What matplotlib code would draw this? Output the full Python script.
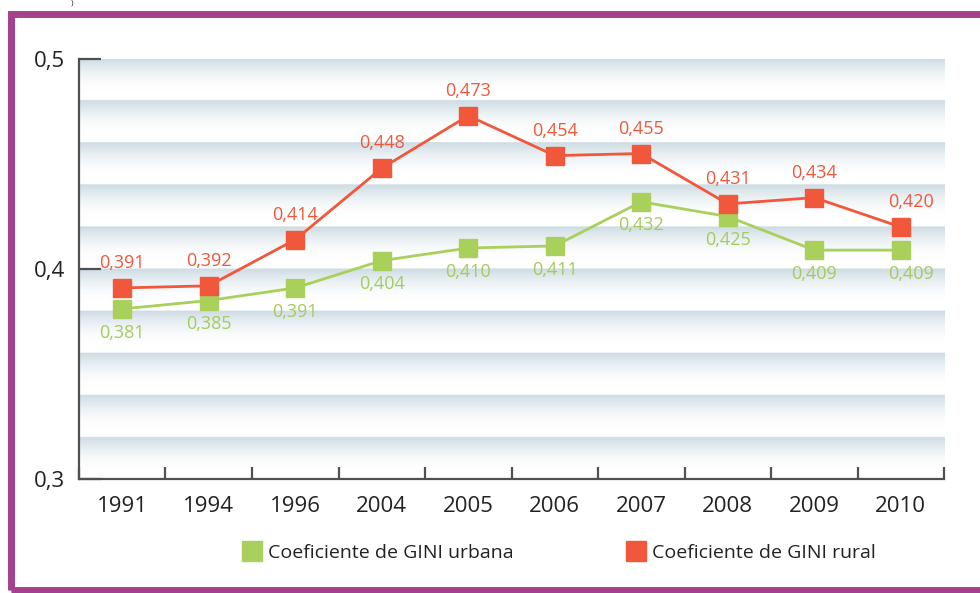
import numpy as np
import matplotlib
matplotlib.use("Agg")
import matplotlib.pyplot as plt
from matplotlib.lines import Line2D
from matplotlib.patches import Rectangle

plt.rcParams['font.family'] = ['Open Sans', 'DejaVu Sans']

# ---- data ----
years = ['1991', '1994', '1996', '2004', '2005', '2006', '2007', '2008', '2009', '2010']
gini_urbana = [0.381, 0.385, 0.391, 0.404, 0.410, 0.411, 0.432, 0.425, 0.409, 0.409]
gini_rural = [0.391, 0.392, 0.414, 0.448, 0.473, 0.454, 0.455, 0.431, 0.434, 0.420]
y_ticks = [0.3, 0.4, 0.5]
y_labels = ['0,3', '0,4', '0,5']
legend_labels = ['Coeficiente de GINI urbana', 'Coeficiente de GINI rural']

red = '#f0573b'
green = '#a9d05a'
green_txt = '#a3cc5a'
purple = '#a3418f'
dark = '#505050'

fig = plt.figure(figsize=(9.8, 5.93), dpi=100)
ax = fig.add_axes([0.0806, 0.1922, 0.8827, 0.7083])

x = np.arange(len(years))

# striped gradient background (bands of 0.02)
ys = np.linspace(0.5, 0.3, 800)
phase = ((0.5 - ys) / 0.02) % 1.0
fade = np.clip(1 - phase / 0.8, 0, 1) ** 1.8
top_col = np.array([0.80, 0.86, 0.89])
white = np.array([1.0, 1.0, 1.0])
img = white[None, :] * (1 - fade[:, None]) + top_col[None, :] * fade[:, None]
img = img[:, None, :]
ax.imshow(img, extent=[-0.5, len(years) - 0.5, 0.3, 0.5], aspect='auto', zorder=0,
          interpolation='bilinear')

ax.plot(x, gini_urbana, color=green, lw=2.0, marker='s', ms=13, zorder=3)
ax.plot(x, gini_rural, color=red, lw=2.0, marker='s', ms=13, zorder=4)

for i in range(len(years)):
    dx = 7 if i == len(years) - 1 else 0
    ax.annotate(f"{gini_rural[i]:.3f}".replace('.', ','), (x[i], gini_rural[i]),
                xytext=(dx, 18), textcoords='offset points', ha='center', va='center',
                color=red, fontsize=13)
    ax.annotate(f"{gini_urbana[i]:.3f}".replace('.', ','), (x[i], gini_urbana[i]),
                xytext=(dx, -17), textcoords='offset points', ha='center', va='center',
                color=green_txt, fontsize=13)

ax.set_xlim(-0.5, len(years) - 0.5)
ax.set_ylim(0.3, 0.5)

# axes styling
for s in ['top', 'right']:
    ax.spines[s].set_visible(False)
for s in ['left', 'bottom']:
    ax.spines[s].set_color(dark)
    ax.spines[s].set_linewidth(1.6)

ax.set_yticks(y_ticks)
ax.set_yticklabels(y_labels, fontsize=16, color='#222222')
ax.tick_params(axis='y', direction='in', length=16, width=1.6, color=dark, pad=10)

ax.set_xticks(np.arange(len(years) + 1) - 0.5, minor=False)
ax.set_xticklabels([''] * (len(years) + 1))
ax.tick_params(axis='x', direction='in', length=9, width=1.6, color=dark)
for i, yr in enumerate(years):
    ax.text(x[i], -0.04, yr, transform=ax.get_xaxis_transform(), ha='center', va='top',
            fontsize=16, color='#222222')

# legend
handles = [Line2D([], [], ls='none', marker='s', ms=15, color=green),
           Line2D([], [], ls='none', marker='s', ms=15, color=red)]
ax.legend(handles, legend_labels, loc='center', bbox_to_anchor=(0.555, -0.176), ncol=2,
          frameon=False, fontsize=14, handlelength=1.0, handletextpad=0.3,
          columnspacing=5.8, labelcolor='#222222')

# purple frame
fig.patches.append(Rectangle((10.5 / 980, 3 / 593), 1.2, 576 / 593, fill=False,
                             edgecolor=purple, lw=5.0, transform=fig.transFigure,
                             figure=fig))
fig.text(72 / 980, 1.0, ')', ha='center', va='top', fontsize=6, color='#222222')

fig.savefig('out.png', dpi=100)
